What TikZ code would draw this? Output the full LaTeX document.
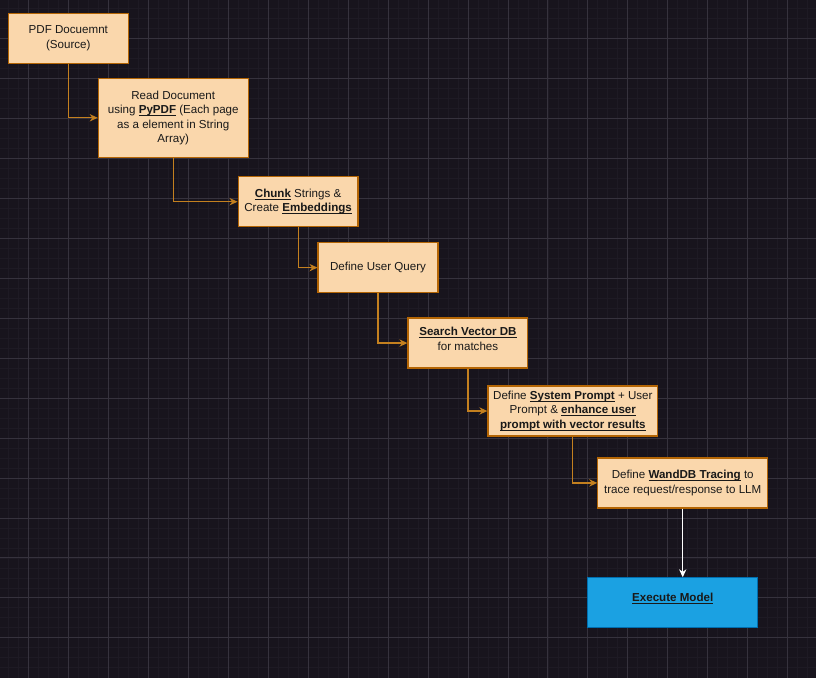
\documentclass[tikz,border=0pt]{standalone}
\usepackage{fontspec}
\setmainfont{Liberation Sans}
\usetikzlibrary{arrows.meta}
\definecolor{sfondo}{HTML}{18141D}
\definecolor{grigliafine}{HTML}{1E1A24}
\definecolor{griglia}{HTML}{36323D}
\definecolor{pesca}{HTML}{FAD7AC}
\definecolor{bordo}{HTML}{B46504}
\definecolor{linea}{HTML}{C4801F}
\definecolor{azzurro}{HTML}{1BA1E2}
\definecolor{bordoblu}{HTML}{006EAF}
\newcommand{\ulbold}[1]{\underline{\smash{\textbf{#1}}}}
\begin{document}
\begin{tikzpicture}[x=0.75pt, y=-0.75pt,
	passo/.style={draw=bordo, fill=pesca, line width=0.9pt, inner sep=0, align=center,
		text=black!90, font=\fontsize{8.7}{10.9}\selectfont, minimum height=37.5pt},
	freccia/.style={draw=linea, line width=0.9pt, -{Stealth[length=6pt, width=5.5pt]}}]
	% sfondo e griglia
	\fill[sfondo] (0,0) rectangle (816,678);
	\foreach \x in {8,18,...,808} \draw[grigliafine, line width=0.5pt] (\x,0) -- (\x,678);
	\foreach \y in {8,18,...,668} \draw[grigliafine, line width=0.5pt] (0,\y) -- (816,\y);
	\foreach \x in {28,68,...,788} \draw[griglia, line width=0.6pt] (\x,0) -- (\x,678);
	\foreach \y in {38,78,...,638} \draw[griglia, line width=0.6pt] (0,\y) -- (816,\y);
	\useasboundingbox (0,0) rectangle (816,678);
	% i passi
	\node [passo, minimum width=90pt] (sorgente) at (68,38) {PDF Docuemnt\\(Source)};
	\node [passo, minimum width=112.5pt, minimum height=59.25pt] (lettura) at (173,117.5)
		{Read Document\\using \ulbold{PyPDF} (Each page\\as a element in String\\Array)};
	\node [passo, minimum width=90pt] (chunk) at (298,201.5) {\ulbold{Chunk} Strings \&\\Create \ulbold{Embeddings}};
	\node [passo, minimum width=90pt] (query) at (378,267.5) {Define User Query};
	\node [passo, minimum width=90pt] (ricerca) at (468,343) {\ulbold{Search Vector DB}\\for matches};
	\node [passo, minimum width=127.5pt] (prompt) at (573,411)
		{Define \ulbold{System Prompt} + User\\Prompt \& \ulbold{enhance user}\\\ulbold{prompt with vector results}};
	\node [passo, minimum width=127.5pt] (tracing) at (683,483)
		{Define \ulbold{WandDB Tracing} to\\trace request/response to LLM};
	\node [passo, draw=bordoblu, fill=azzurro, minimum width=127.5pt] (modello) at (673,603)
		{\ulbold{Execute Model}};
	% collegamenti
	\draw [freccia] (sorgente.south) |- (lettura.west);
	\draw [freccia] (lettura.south) |- (chunk.west);
	\draw [freccia] (chunk.south) |- (query.west);
	\draw [freccia] (query.south) |- (ricerca.west);
	\draw [freccia] (ricerca.south) |- (prompt.west);
	\draw [freccia] (prompt.south) |- (tracing.west);
	\draw [freccia, draw=white] (tracing.south) -- (tracing.south |- modello.north);
\end{tikzpicture}
\end{document}
